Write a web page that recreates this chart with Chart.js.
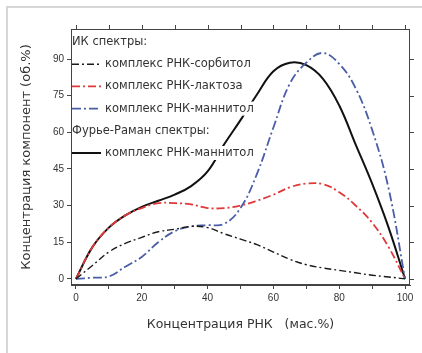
<!DOCTYPE html>
<html>
<head>
<meta charset="utf-8">
<script src="https://cdn.jsdelivr.net/npm/chart.js@4"></script>
<style>
  html, body { margin: 0; padding: 0; background: #fff; }
  #wrap { width: 422px; height: 353px; position: relative; }
</style>
</head>
<body>
<div id="wrap"><canvas id="chart"></canvas></div>
<script>
// RNA concentration, mass %
const rnaConc = [0, 5, 10, 15, 20, 25, 30, 35, 40, 45, 50, 55, 60, 65, 70, 75, 80, 85, 90, 95, 100];

// IR spectra
const sorbitol = [0, 5.5, 11, 14.5, 17, 19.3, 20.3, 21.5, 21, 18.5, 16.3, 14, 11, 8, 5.8, 4.5, 3.5, 2.5, 1.5, 0.8, 0];
const lactose  = [0, 13, 21, 26, 29, 31, 31, 30.5, 29, 29, 30, 32, 34.5, 37.5, 39, 38.8, 35.5, 30, 23, 13, 0];
const mannitol = [0, 0.5, 1, 5, 9, 15, 19.5, 21.5, 22, 22.5, 29, 43, 62, 80, 88.5, 92.5, 88, 78, 61, 37, 0];

// FT-Raman spectra
const mannitolRaman = [0, 13, 21, 26, 29.5, 32, 34.5, 38, 44, 55, 65, 75.5, 85, 88.5, 87.5, 82, 71, 55, 39, 21, 0];

const xTicks = [0, 10, 20, 30, 40, 50, 60, 70, 80, 90, 100];
const yTicks = [0, 15, 30, 45, 60, 75, 90];

const points = ys => rnaConc.map((x, i) => ({ x: x, y: ys[i] }));

const series = [
  { label: 'комплекс РНК-сорбитол', data: sorbitol, color: '#1a1a1a', dash: [7, 3, 2, 3], width: 1.4 },
  { label: 'комплекс РНК-лактоза', data: lactose, color: '#e0393b', dash: [8, 3, 2, 3], width: 1.8 },
  { label: 'комплекс РНК-маннитол', data: mannitol, color: '#4a5ea8', dash: [9, 3, 2, 3], width: 1.8 },
  { label: 'комплекс РНК-маннитол', data: mannitolRaman, color: '#111111', dash: [], width: 2 }
];

// legend rows: headers and line samples
const legendRows = [
  { header: 'ИК спектры:' },
  { ds: 0 }, { ds: 1 }, { ds: 2 },
  { header: 'Фурье-Раман спектры:' },
  { ds: 3 }
];

const textColor = '#333';
const tickFont = 'Arial, "Liberation Sans", sans-serif';
const labelFont = '"DejaVu Sans", Verdana, sans-serif';

const decorPlugin = {
  id: 'decor',
  beforeDraw(chart) {
    const ctx = chart.ctx;
    ctx.save();
    ctx.fillStyle = '#d6d6d6';
    ctx.fillRect(6, 6, 416, 2);
    ctx.fillRect(6, 6, 2, 347);
    ctx.restore();
  },
  afterDatasetsDraw(chart) {
    const ctx = chart.ctx;
    const area = chart.chartArea;
    const xs = chart.scales.x, ys = chart.scales.y;

    // legend block
    ctx.save();
    ctx.font = '11.5px ' + labelFont;
    ctx.textBaseline = 'middle';
    let y = area.top + 13;
    legendRows.forEach(row => {
      if (row.header) {
        const w = ctx.measureText(row.header).width;
        ctx.fillStyle = '#fff';
        ctx.fillRect(area.left + 1, y - 7, w + 3, 14);
        ctx.fillStyle = textColor;
        ctx.fillText(row.header, area.left + 1, y);
      } else {
        const s = series[row.ds];
        const w = ctx.measureText(s.label).width;
        ctx.fillStyle = '#fff';
        ctx.fillRect(area.left + 1, y - 7, 34 + w + 2, 14);
        ctx.strokeStyle = s.color;
        ctx.lineWidth = s.width;
        ctx.setLineDash(s.dash);
        ctx.beginPath();
        ctx.moveTo(area.left + 1, y);
        ctx.lineTo(area.left + 30, y);
        ctx.stroke();
        ctx.setLineDash([]);
        ctx.fillStyle = textColor;
        ctx.fillText(s.label, area.left + 34, y);
      }
      y += 22.2;
    });
    ctx.restore();

    // frame with mirrored ticks
    ctx.save();
    ctx.strokeStyle = '#444';
    ctx.lineWidth = 1;
    ctx.strokeRect(area.left + 0.5, area.top + 0.5, area.right - area.left - 1, area.bottom - area.top - 1);
    ctx.beginPath();
    xTicks.forEach(v => {
      const px = Math.round(xs.getPixelForValue(v)) + 0.5;
      ctx.moveTo(px, area.top);
      ctx.lineTo(px, area.top - 4);
    });
    yTicks.forEach(v => {
      const py = Math.round(ys.getPixelForValue(v)) + 0.5;
      ctx.moveTo(area.right, py);
      ctx.lineTo(area.right + 4, py);
    });
    ctx.stroke();
    ctx.restore();
  }
};

new Chart(document.getElementById('chart'), {
  type: 'scatter',
  plugins: [decorPlugin],
  data: {
    datasets: series.map(s => ({
      label: s.label,
      data: points(s.data),
      showLine: true,
      borderColor: s.color,
      borderWidth: s.width,
      borderDash: s.dash,
      pointRadius: 0,
      tension: 0.4,
      fill: false
    }))
  },
  options: {
    responsive: true,
    maintainAspectRatio: false,
    animation: false,
    layout: { padding: { top: 29, right: 12, left: 15, bottom: 17 } },
    plugins: {
      legend: { display: false },
      tooltip: { enabled: false }
    },
    scales: {
      x: {
        type: 'linear',
        min: -1.5,
        max: 101.5,
        afterBuildTicks: scale => { scale.ticks = xTicks.map(v => ({ value: v })); },
        afterFit: scale => { scale.height = 51; },
        ticks: {
          autoSkip: false,
          maxRotation: 0,
          color: textColor,
          font: { size: 10, family: tickFont },
          padding: 3,
          callback: v => (v % 20 === 0 ? v : '')
        },
        grid: { drawOnChartArea: false, drawTicks: true, tickLength: 4, color: '#444' },
        border: { display: true, color: '#444' },
        title: {
          display: true,
          text: 'Концентрация РНК   (мас.%)',
          color: textColor,
          font: { size: 12.5, family: labelFont }
        }
      },
      y: {
        type: 'linear',
        min: -2.5,
        max: 102.3,
        afterBuildTicks: scale => { scale.ticks = yTicks.map(v => ({ value: v })); },
        afterFit: scale => { scale.width = 56; },
        ticks: {
          autoSkip: false,
          color: textColor,
          font: { size: 10, family: tickFont },
          padding: 3
        },
        grid: { drawOnChartArea: false, drawTicks: true, tickLength: 4, color: '#444' },
        border: { display: true, color: '#444' },
        title: {
          display: true,
          text: 'Концентрация компонент (об.%)',
          color: textColor,
          font: { size: 13, family: labelFont }
        }
      }
    }
  }
});
</script>
</body>
</html>
